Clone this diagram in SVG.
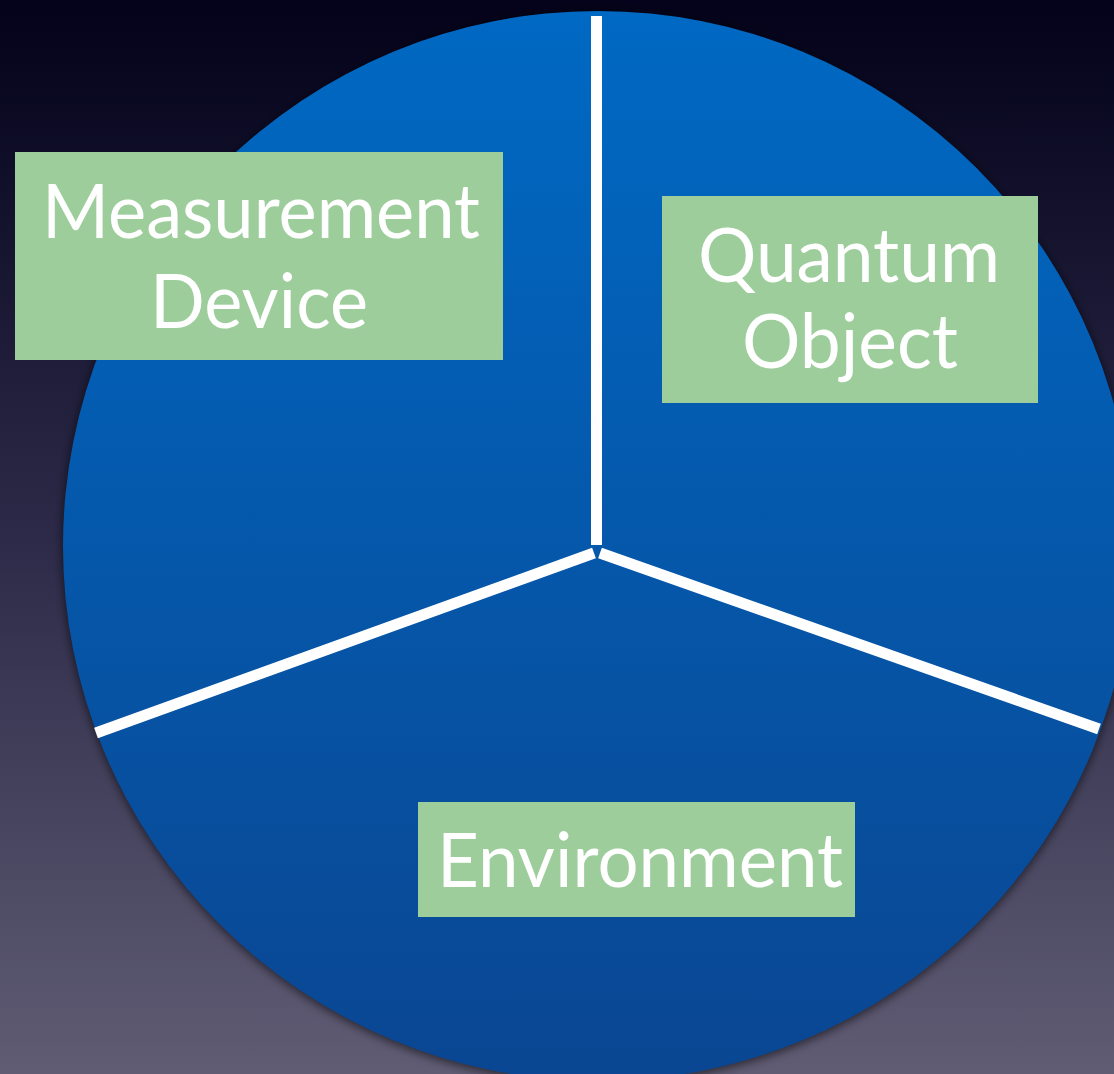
<svg xmlns="http://www.w3.org/2000/svg" width="1114" height="1074" viewBox="0 0 1114 1074">
  <defs>
    <linearGradient id="bg" x1="0" y1="0" x2="0" y2="1">
      <stop offset="0" stop-color="#03021a"/>
      <stop offset="0.5" stop-color="#2c2a48"/>
      <stop offset="1" stop-color="#605c74"/>
    </linearGradient>
    <linearGradient id="disc" x1="0" y1="0" x2="0" y2="1">
      <stop offset="0" stop-color="#0069c3"/>
      <stop offset="1" stop-color="#0a4692"/>
    </linearGradient>
    <filter id="soft" x="-5%" y="-5%" width="110%" height="110%">
      <feGaussianBlur stdDeviation="5"/>
    </filter>
    <style>
      .box { fill: #9ccd9b; }
      .label { fill: #ffffff; font-family: Lato, "Open Sans", "Liberation Sans", sans-serif; font-size: 76px; text-anchor: middle; }
      .divider { stroke: #ffffff; stroke-width: 11; stroke-linecap: butt; fill: none; }
    </style>
  </defs>

  <!-- backdrop -->
  <rect x="0" y="0" width="1114" height="1074" fill="url(#bg)"/>

  <!-- soft shadow under the disc, then the disc itself -->
  <circle cx="598" cy="548" r="536" fill="#000000" fill-opacity="0.55" filter="url(#soft)"/>
  <circle cx="598" cy="546" r="535" fill="url(#disc)"/>

  <!-- dividers splitting the disc into three sectors -->
  <g id="connectors">
    <line class="divider" x1="596.5" y1="16" x2="596.5" y2="545"/>
    <line class="divider" x1="96" y1="733" x2="594" y2="553"/>
    <line class="divider" x1="600" y1="553" x2="1099" y2="729"/>
  </g>

  <g id="measurement-device">
    <rect class="box" x="15" y="152" width="488" height="208"/>
    <text class="label" x="261" y="238" textLength="438" lengthAdjust="spacingAndGlyphs">Measurement</text>
    <text class="label" x="259" y="328" textLength="218" lengthAdjust="spacingAndGlyphs">Device</text>
  </g>

  <g id="quantum-object">
    <rect class="box" x="662" y="196" width="376" height="207"/>
    <text class="label" x="849" y="282" textLength="302" lengthAdjust="spacingAndGlyphs">Quantum</text>
    <text class="label" x="850" y="368" textLength="216" lengthAdjust="spacingAndGlyphs">Object</text>
  </g>

  <g id="environment">
    <rect class="box" x="418" y="802" width="437" height="115"/>
    <text class="label" x="640" y="887" textLength="406" lengthAdjust="spacingAndGlyphs">Environment</text>
  </g>
</svg>
